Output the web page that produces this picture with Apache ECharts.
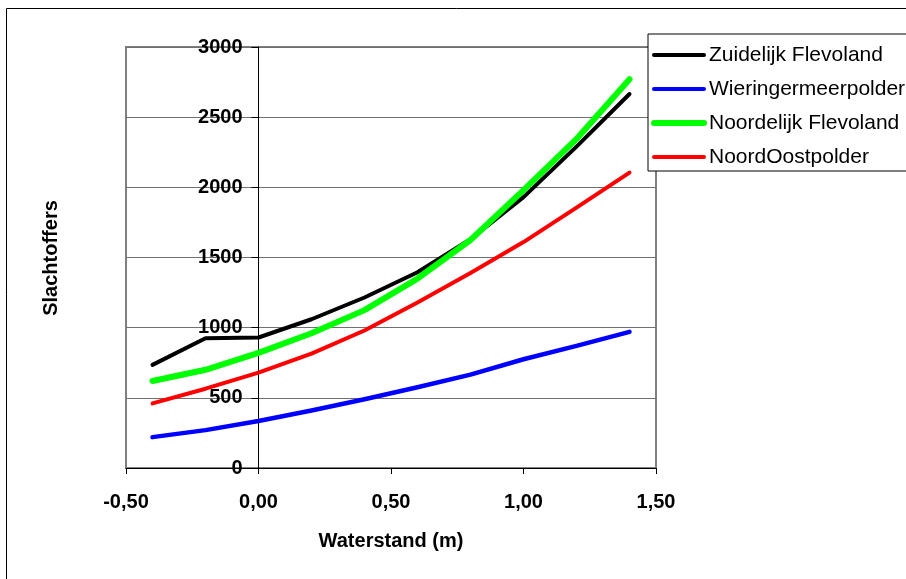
<!DOCTYPE html>
<html>
<head>
<meta charset="utf-8">
<script src="https://cdn.jsdelivr.net/npm/echarts@6/dist/echarts.min.js"></script>
<style>
html,body{margin:0;padding:0;background:#fff;}
#chart{width:906px;height:579px;}
</style>
</head>
<body>
<div id="chart"></div>
<script>
var waterstand = [-0.4, -0.2, 0.0, 0.2, 0.4, 0.6, 0.8, 1.0, 1.2, 1.4];
var zuidelijkFlevoland = [735, 925, 930, 1060, 1215, 1395, 1630, 1930, 2290, 2665];
var wieringermeerpolder = [220, 270, 335, 410, 490, 575, 665, 775, 870, 970];
var noordelijkFlevoland = [620, 700, 820, 960, 1125, 1350, 1625, 1980, 2345, 2770];
var noordOostpolder = [460, 565, 680, 815, 980, 1180, 1390, 1610, 1855, 2105];
var seriesNames = ['Zuidelijk Flevoland', 'Wieringermeerpolder', 'Noordelijk Flevoland', 'NoordOostpolder'];
var xTicks = [-0.5, 0.0, 0.5, 1.0, 1.5];
var yTicks = [0, 500, 1000, 1500, 2000, 2500, 3000];

var FONT = "'Liberation Sans', Arial, sans-serif";
function pairs(vals) { return waterstand.map(function (x, i) { return [x, vals[i]]; }); }
var seriesValues = [zuidelijkFlevoland, wieringermeerpolder, noordelijkFlevoland, noordOostpolder];
var colors = ['#000000', '#0000ff', '#00ff00', '#ff0000'];
var widths = [4, 4.5, 6, 4];
var legendWidths = [4, 4, 6, 4];

var chart = echarts.init(document.getElementById('chart'), null, {renderer: 'canvas'});
chart.setOption({
  animation: false,
  backgroundColor: '#ffffff',
  textStyle: {fontFamily: FONT},
  grid: {left: 126, right: 250, top: 47, bottom: 111, show: true, borderColor: '#808080', borderWidth: 2, backgroundColor: 'transparent'},
  graphic: [
    {type: 'rect', shape: {x: 6.5, y: 8.5, width: 1200, height: 1200}, style: {fill: 'none', stroke: '#000', lineWidth: 1}, z: 0, silent: true},
    {type: 'text', x: 51, y: 258, rotation: Math.PI / 2, style: {text: 'Slachtoffers', fill: '#000', font: 'bold 20px ' + FONT, align: 'center', verticalAlign: 'middle'}, silent: true}
  ],
  legend: {
    orient: 'vertical', left: 648, top: 34,
    padding: [9, 10, 2, 3], itemGap: 10, itemWidth: 50, itemHeight: 24,
    borderColor: '#000', borderWidth: 1, backgroundColor: '#fff',
    itemStyle: {opacity: 0},
    textStyle: {fontFamily: FONT, fontSize: 21, color: '#000', lineHeight: 24},
    data: seriesNames.map(function (n, i) {
      return {name: n, itemStyle: {opacity: 0}, lineStyle: {width: legendWidths[i], color: colors[i], cap: 'round'}};
    })
  },
  xAxis: {
    type: 'value', min: -0.5, max: 1.5, interval: 0.5,
    axisLine: {show: true, onZero: false, lineStyle: {color: '#000', width: 1}},
    axisTick: {show: true, length: 6, lineStyle: {color: '#000'}},
    splitLine: {show: false},
    axisLabel: {margin: 24, color: '#000', fontSize: 20, fontWeight: 'bold', fontFamily: FONT,
      formatter: function (v) { return v.toFixed(2).replace('.', ','); }},
    name: 'Waterstand (m)', nameLocation: 'middle', nameGap: 63,
    nameTextStyle: {color: '#000', fontSize: 20, fontWeight: 'bold', fontFamily: FONT}
  },
  yAxis: {
    type: 'value', min: 0, max: 3000, interval: 500, offset: -132.5,
    axisLine: {show: true, onZero: false, lineStyle: {color: '#000', width: 1}},
    axisTick: {show: true, length: 7, lineStyle: {color: '#000'}},
    splitLine: {show: true, lineStyle: {color: '#707070', width: 1}},
    axisLabel: {margin: 16, color: '#000', fontSize: 20, fontWeight: 'bold', fontFamily: FONT,
      formatter: function (v) { return String(v); }}
  },
  series: seriesNames.map(function (n, i) {
    return {
      name: n, type: 'line', data: pairs(seriesValues[i]), symbol: 'none', smooth: false,
      lineStyle: {color: colors[i], width: widths[i], cap: 'round', join: 'round'},
      itemStyle: {color: colors[i]}, z: 3 + i
    };
  })
});
</script>
</body>
</html>
